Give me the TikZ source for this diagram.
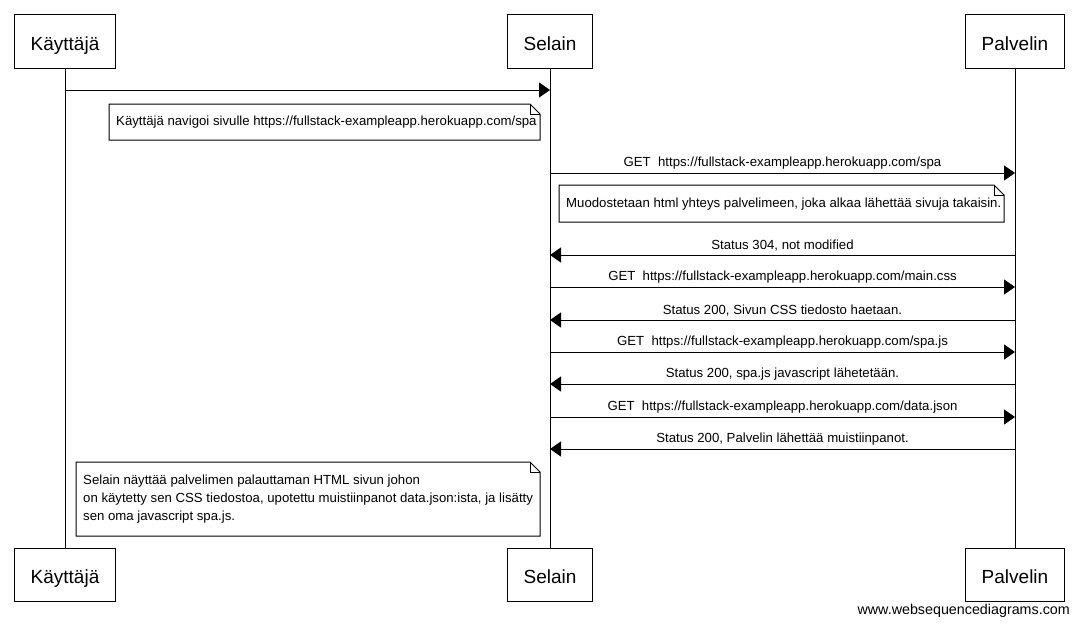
\documentclass[tikz,border=0pt]{standalone}
\usepackage{fontspec}
\setmainfont{Liberation Sans}
\usetikzlibrary{arrows.meta}

\tikzset{
    actor/.style={draw, line width=1pt, minimum height=53pt, inner xsep=16pt, text height=18.6pt, text depth=0pt, font=\fontsize{19}{23}\selectfont},
    lifeline/.style={line width=1pt},
    msg/.style={line width=1pt, -{Triangle[length=11pt,width=15pt]}},
    msglabel/.style={midway, above, inner sep=3pt, font=\fontsize{13.2}{16}\selectfont},
    notebox/.style={line width=1pt},
    notetext/.style={anchor=west, inner sep=0pt, align=left, font=\fontsize{13.2}{18}\selectfont},
}

\begin{document}
\begin{tikzpicture}[x=1pt,y=-1pt]
    \useasboundingbox (0,0) rectangle (1078,626);
    % participants
    \node [actor] (kayttaja) at (65,41.5) {Käyttäjä};
    \node [actor] (selain) at (550,41.5) {Selain};
    \node [actor] (palvelin) at (1015,41.5) {Palvelin};
    \node [actor] (kayttajaB) at (65,574.5) {Käyttäjä};
    \node [actor] (selainB) at (550,574.5) {Selain};
    \node [actor] (palvelinB) at (1015,574.5) {Palvelin};
    \draw [lifeline] (kayttaja) -- (kayttajaB);
    \draw [lifeline] (selain) -- (selainB);
    \draw [lifeline] (palvelin) -- (palvelinB);
    % user opens the page
    \draw [msg] (kayttaja |- 0,90) -- (selain |- 0,90);
    \draw [notebox] (109,104) -- (530,104) -- (540,114) -- (540,140) -- (109,140) -- cycle;
    \draw [notebox] (530,104) -- (530,114) -- (540,114);
    \node [notetext] (note1) at (116,122) {Käyttäjä navigoi sivulle https://fullstack-exampleapp.herokuapp.com/spa};
    % html page
    \draw [msg] (selain |- 0,173) -- (palvelin |- 0,173) node [msglabel] (getspa) {GET\ \ https://fullstack-exampleapp.herokuapp.com/spa};
    \draw [notebox] (559,185) -- (994,185) -- (1004,195) -- (1004,222) -- (559,222) -- cycle;
    \draw [notebox] (994,185) -- (994,195) -- (1004,195);
    \node [notetext] (note2) at (566,204) {Muodostetaan html yhteys palvelimeen, joka alkaa lähettää sivuja takaisin.};
    \draw [msg] (palvelin |- 0,255) -- (selain |- 0,255) node [msglabel] (st304) {Status 304, not modified};
    % css
    \draw [msg] (selain |- 0,287) -- (palvelin |- 0,287) node [msglabel] (getcss) {GET\ \ https://fullstack-exampleapp.herokuapp.com/main.css};
    \draw [msg] (palvelin |- 0,320) -- (selain |- 0,320) node [msglabel] (stcss) {Status 200, Sivun CSS tiedosto haetaan.};
    % javascript
    \draw [msg] (selain |- 0,352) -- (palvelin |- 0,352) node [msglabel] (getjs) {GET\ \ https://fullstack-exampleapp.herokuapp.com/spa.js};
    \draw [msg] (palvelin |- 0,384) -- (selain |- 0,384) node [msglabel] (stjs) {Status 200, spa.js javascript lähetetään.};
    % data
    \draw [msg] (selain |- 0,417) -- (palvelin |- 0,417) node [msglabel] (getjson) {GET\ \ https://fullstack-exampleapp.herokuapp.com/data.json};
    \draw [msg] (palvelin |- 0,449) -- (selain |- 0,449) node [msglabel] (stjson) {Status 200, Palvelin lähettää muistiinpanot.};
    \draw [notebox] (76,462) -- (530,462) -- (540,472) -- (540,536) -- (76,536) -- cycle;
    \draw [notebox] (530,462) -- (530,472) -- (540,472);
    \node [notetext] (note3) at (83,499) {Selain näyttää palvelimen palauttaman HTML sivun johon\\on käytetty sen CSS tiedostoa, upotettu muistiinpanot data.json:ista, ja lisätty\\sen oma javascript spa.js.};
    \node [anchor=east, inner sep=0pt, font=\fontsize{14.3}{16}\selectfont] (credit) at (1070,611) {www.websequencediagrams.com};
\end{tikzpicture}
\end{document}
